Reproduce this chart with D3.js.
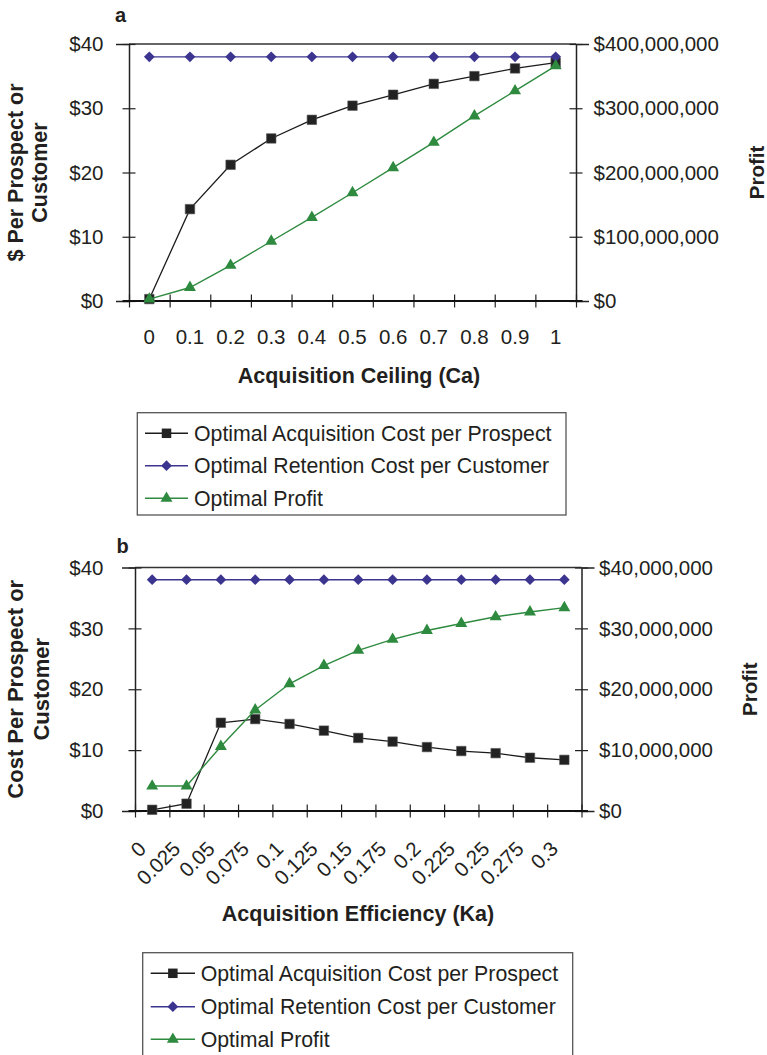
<!DOCTYPE html>
<html>
<head>
<meta charset="utf-8">
<script src="https://cdn.jsdelivr.net/npm/d3@7"></script>
<style>
  html, body { margin: 0; padding: 0; background: #fff; }
  svg { display: block; }
  text { font-family: "Liberation Sans", Arial, Helvetica, sans-serif; fill: #231f20; }
</style>
</head>
<body>
<svg id="chart" width="767" height="1055"></svg>
<script>
// ---------- DATA ----------
const catsA = ["0", "0.1", "0.2", "0.3", "0.4", "0.5", "0.6", "0.7", "0.8", "0.9", "1"];
const acqA  = [0.3, 14.3, 21.2, 25.3, 28.2, 30.4, 32.1, 33.8, 35.0, 36.2, 37.1];
const retA  = [38, 38, 38, 38, 38, 38, 38, 38, 38, 38, 38];
const profA = [3e6, 21e6, 55.5e6, 93e6, 130e6, 168.5e6, 207.5e6, 247e6, 288e6, 327e6, 366e6];

const catsB = ["0", "0.025", "0.05", "0.075", "0.1", "0.125", "0.15", "0.175", "0.2", "0.225", "0.25", "0.275", "0.3"];
const acqB  = [0.2, 1.2, 14.5, 15.1, 14.3, 13.2, 12.0, 11.4, 10.5, 9.85, 9.5, 8.75, 8.4];
const retB  = [38, 38, 38, 38, 38, 38, 38, 38, 38, 38, 38, 38, 38];
const profB = [4.1e6, 4.1e6, 10.6e6, 16.6e6, 20.9e6, 23.9e6, 26.4e6, 28.2e6, 29.65e6, 30.8e6, 31.9e6, 32.7e6, 33.4e6];

const leftTicks = [0, 10, 20, 30, 40];
const rightTicksA = [0, 100e6, 200e6, 300e6, 400e6];
const rightTicksB = [0, 10e6, 20e6, 30e6, 40e6];
const legendLabels = ["Optimal Acquisition Cost per Prospect", "Optimal Retention Cost per Customer", "Optimal Profit"];

// ---------- STYLE ----------
const COL_BLACK = "#1c1c1c", COL_BLUE = "#3b3590", COL_GREEN = "#2e8a3f";
const svg = d3.select("#chart");

const diamond = { draw(ctx, size) { const r = Math.sqrt(size / 2); ctx.moveTo(0, -r); ctx.lineTo(r, 0); ctx.lineTo(0, r); ctx.lineTo(-r, 0); ctx.closePath(); } };
const symSquare = d3.symbol(d3.symbolSquare, 90)();
const symDiamond = d3.symbol(diamond, 58)();
const symTriangle = d3.symbol(d3.symbolTriangle, 62)();

const dollarFmt = d3.format("$,");

function panel(o) {
  const g = svg.append("g");
  const x = d3.scaleBand().domain(o.cats).range([o.left, o.right]).paddingInner(0).paddingOuter(0);
  const xb = d3.scaleLinear().domain([0, o.cats.length]).range([o.left, o.right]);
  const yL = d3.scaleLinear().domain([0, 40]).range([o.bottom, o.top]);
  const yR = d3.scaleLinear().domain([0, o.rightMax]).range([o.bottom, o.top]);
  const cx = d => x(d) + x.bandwidth() / 2;

  // plot border (top)
  g.append("line").attr("x1", o.left).attr("x2", o.right).attr("y1", o.top).attr("y2", o.top)
    .attr("stroke", "#333").attr("stroke-width", 1.3);

  // left axis
  const la = g.append("g").attr("transform", `translate(${o.left},0)`)
    .call(d3.axisLeft(yL).tickValues(leftTicks).tickSize(13).tickFormat(""));
  la.selectAll(".tick line").attr("x1", 6.5).attr("x2", -6.5).attr("stroke", "#222").attr("stroke-width", 1.2);
  la.select(".domain").attr("stroke", "#222").attr("stroke-width", 1.5);
  g.append("g").selectAll("text").data(leftTicks).join("text")
    .attr("x", 103.5).attr("y", d => yL(d)).attr("dy", "0.35em")
    .attr("text-anchor", "end").attr("font-size", "20.5px").text(d => "$" + d);

  // right axis
  const ra = g.append("g").attr("transform", `translate(${o.right},0)`)
    .call(d3.axisRight(yR).tickValues(o.rightTicks).tickSize(13).tickFormat(""));
  ra.selectAll(".tick line").attr("x1", -6.5).attr("x2", 6.5).attr("stroke", "#222").attr("stroke-width", 1.2);
  ra.select(".domain").attr("stroke", "#222").attr("stroke-width", 1.5);
  g.append("g").selectAll("text").data(o.rightTicks).join("text")
    .attr("x", o.rightLabelX).attr("y", d => yR(d)).attr("dy", "0.35em")
    .attr("font-size", "20.5px").text(d => dollarFmt(d));

  // bottom axis: tick marks at band boundaries
  const ba = g.append("g").attr("transform", `translate(0,${o.bottom})`)
    .call(d3.axisBottom(xb).tickValues(d3.range(o.cats.length + 1)).tickSize(13).tickFormat(""));
  ba.selectAll(".tick line").attr("y1", -6.5).attr("y2", 6.5).attr("stroke", "#222").attr("stroke-width", 1.2);
  ba.select(".domain").remove();
  g.append("line").attr("x1", o.left - 6.5).attr("x2", o.right + 6.5).attr("y1", o.bottom).attr("y2", o.bottom)
    .attr("stroke", "#111").attr("stroke-width", 2);

  // category labels
  const cl = g.append("g").attr("transform", `translate(0,${o.bottom})`)
    .call(d3.axisBottom(x).tickSize(0).tickPadding(0));
  cl.select(".domain").remove();
  cl.selectAll(".tick text").attr("font-size", "20.5px").attr("fill", "#231f20")
    .attr("font-family", "'Liberation Sans', Arial, sans-serif");
  if (o.rotate) {
    cl.selectAll(".tick text").attr("text-anchor", "end")
      .attr("transform", "translate(-10,34) rotate(-45)").attr("y", 0).attr("dy", "0.35em");
  } else {
    cl.selectAll(".tick text").attr("y", 36).attr("dy", "0.35em");
  }

  // series
  const lineL = d3.line().x((d, i) => cx(o.cats[i])).y(d => yL(d));
  const lineR = d3.line().x((d, i) => cx(o.cats[i])).y(d => yR(d));
  g.append("path").attr("d", lineL(o.acq)).attr("fill", "none").attr("stroke", COL_BLACK).attr("stroke-width", 1.3);
  g.append("g").selectAll("path").data(o.acq).join("path")
    .attr("transform", (d, i) => `translate(${cx(o.cats[i])},${yL(d)})`).attr("d", symSquare)
    .attr("fill", "#222").attr("stroke", "#555").attr("stroke-width", 0.6);
  g.append("path").attr("d", lineL(o.ret)).attr("fill", "none").attr("stroke", COL_BLUE).attr("stroke-width", 1.4);
  g.append("g").selectAll("path").data(o.ret).join("path")
    .attr("transform", (d, i) => `translate(${cx(o.cats[i])},${yL(d)})`).attr("d", symDiamond)
    .attr("fill", COL_BLUE);
  g.append("path").attr("d", lineR(o.prof)).attr("fill", "none").attr("stroke", COL_GREEN).attr("stroke-width", 1.4);
  g.append("g").selectAll("path").data(o.prof).join("path")
    .attr("transform", (d, i) => `translate(${cx(o.cats[i])},${yR(d)})`).attr("d", symTriangle)
    .attr("fill", COL_GREEN);

  // titles
  g.append("text").attr("x", o.letterX).attr("y", o.letterY).attr("font-weight", "bold").attr("font-size", "20px").text(o.letter);
  const midY = (o.top + o.bottom) / 2;
  o.leftTitle.forEach((t, i) => {
    g.append("text").attr("transform", `translate(${o.leftTitleX[i]},${midY}) rotate(-90)`)
      .attr("text-anchor", "middle").attr("dy", "0.35em").attr("font-weight", "bold").attr("font-size", o.leftTitleSize).text(t);
  });
  g.append("text").attr("transform", `translate(${o.profitX},${midY}) rotate(-90)`)
    .attr("text-anchor", "middle").attr("dy", "0.35em").attr("font-weight", "bold").attr("font-size", "20.5px").text("Profit");
  g.append("text").attr("x", o.xTitleX).attr("y", o.xTitleY).attr("text-anchor", "middle")
    .attr("font-weight", "bold").attr("font-size", "21.5px").text(o.xTitle);

  // legend
  const L = o.legend;
  g.append("rect").attr("x", L.x).attr("y", L.y).attr("width", L.w).attr("height", L.h)
    .attr("fill", "#fff").attr("stroke", "#555").attr("stroke-width", 1.3);
  const cols = [COL_BLACK, COL_BLUE, COL_GREEN];
  const syms = [symSquare, symDiamond, symTriangle];
  const fills = ["#222", COL_BLUE, COL_GREEN];
  legendLabels.forEach((lab, i) => {
    const yy = L.rows[i];
    g.append("line").attr("x1", L.lx1).attr("x2", L.lx2).attr("y1", yy).attr("y2", yy).attr("stroke", cols[i]).attr("stroke-width", 1.4);
    g.append("path").attr("transform", `translate(${(L.lx1 + L.lx2) / 2},${yy})`).attr("d", syms[i]).attr("fill", fills[i]);
    g.append("text").attr("x", L.tx).attr("y", yy).attr("dy", "0.35em").attr("font-size", "21.3px").text(lab);
  });
}

panel({
  cats: catsA, acq: acqA, ret: retA, prof: profA, rightMax: 400e6, rightTicks: rightTicksA,
  left: 129, right: 576, top: 44, bottom: 301, rightLabelX: 593.5, rotate: false,
  letter: "a", letterX: 115, letterY: 21.5,
  leftTitle: ["$ Per Prospect or", "Customer"], leftTitleX: [15.5, 39], leftTitleSize: "21.5px",
  profitX: 757, xTitle: "Acquisition Ceiling (Ca)", xTitleX: 359, xTitleY: 383,
  legend: { x: 137.3, y: 412.7, w: 428.7, h: 102.3, rows: [433.3, 465.7, 498.3], lx1: 145, lx2: 188, tx: 194 }
});

panel({
  cats: catsB, acq: acqB, ret: retB, prof: profB, rightMax: 40e6, rightTicks: rightTicksB,
  left: 135, right: 581.5, top: 567.5, bottom: 811, rightLabelX: 599, rotate: true,
  letter: "b", letterX: 116.5, letterY: 552.5,
  leftTitle: ["Cost Per Prospect or", "Customer"], leftTitleX: [15.5, 41], leftTitleSize: "22px",
  profitX: 750, xTitle: "Acquisition Efficiency (Ka)", xTitleX: 358, xTitleY: 921,
  legend: { x: 142.7, y: 952.7, w: 430, h: 110, rows: [973.3, 1006.7, 1039.3], lx1: 150.7, lx2: 195, tx: 200.7 }
});
</script>
</body>
</html>
